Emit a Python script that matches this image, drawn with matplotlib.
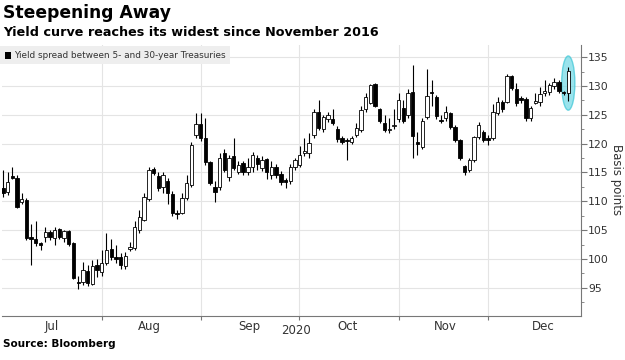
import matplotlib
matplotlib.use("Agg")
import matplotlib.pyplot as plt
from matplotlib.patches import Ellipse, Rectangle

# daily candles, Jul - Dec 2020 (basis points)
opens = [112.3, 111.6, 114.3, 114.0, 109.8, 110.3, 103.8, 103.5, 102.7, 103.8,
         104.6, 103.7, 105.2, 103.6, 104.8, 102.8, 96.0, 96.0, 97.9, 95.7,
         99.0, 97.8, 99.3, 101.7, 100.2, 100.3, 98.8, 101.7, 101.9, 105.0,
         106.8, 110.4, 115.6, 114.3, 112.5, 113.5, 111.3, 108.0, 108.0, 110.6,
         112.8, 121.5, 123.4, 121.0, 116.8, 112.5, 112.5, 118.4, 114.2, 117.8,
         115.1, 116.6, 115.1, 116.0, 117.5, 115.8, 117.3, 114.5, 115.9, 114.7,
         113.6, 113.5, 116.0, 116.3, 118.4, 118.4, 121.5, 125.5, 122.5, 124.3,
         124.3, 122.5, 121.0, 120.6, 120.3, 121.5, 122.4, 126.0, 127.0, 130.3,
         126.0, 123.6, 122.3, 123.0, 124.2, 126.2, 125.0, 128.9, 120.3, 119.4,
         124.6, 128.9, 128.1, 124.1, 124.4, 125.3, 122.9, 120.6, 116.1, 115.4,
         117.1, 121.1, 122.0, 120.9, 121.0, 125.3, 127.2, 127.2, 131.7, 129.5,
         127.8, 127.7, 124.4, 127.1, 127.2, 128.8, 128.9, 130.0, 130.7, 128.9,
         128.8]
closes = [111.5, 113.3, 114.0, 109.0, 110.4, 103.6, 103.5, 102.8, 102.5, 104.7,
          103.8, 105.0, 103.8, 104.8, 102.6, 96.7, 95.8, 98.1, 95.8, 98.8,
          98.1, 99.3, 101.6, 100.3, 100.0, 99.0, 100.5, 102.1, 105.5, 107.3,
          110.7, 115.4, 114.9, 112.3, 114.5, 111.4, 108.0, 107.8, 110.6, 113.1,
          119.7, 123.4, 121.0, 116.8, 113.2, 111.6, 117.5, 115.4, 117.5, 115.8,
          116.3, 115.1, 116.0, 118.0, 116.4, 117.2, 115.1, 116.0, 114.6, 113.3,
          113.4, 116.0, 117.1, 118.0, 118.6, 120.1, 125.5, 122.7, 124.6, 125.0,
          123.6, 120.8, 120.3, 120.4, 120.9, 122.7, 125.8, 128.0, 130.1, 126.5,
          123.9, 122.4, 122.5, 123.3, 127.5, 124.0, 128.8, 121.3, 119.9, 123.9,
          128.2, 128.7, 124.8, 123.9, 125.5, 122.9, 120.6, 117.5, 115.1, 117.1,
          121.1, 123.2, 120.6, 120.7, 125.5, 127.2, 126.0, 131.7, 129.6, 127.0,
          127.6, 124.4, 126.2, 127.3, 128.6, 129.0, 130.1, 130.7, 129.1, 128.7,
          132.6]
highs = [115.4, 115.0, 116.0, 114.5, 111.5, 110.5, 106.0, 106.5, 103.0, 105.5,
         105.0, 105.5, 105.4, 105.0, 105.0, 103.0, 97.0, 99.5, 99.0, 99.8,
         100.0, 101.5, 104.5, 103.5, 102.5, 101.0, 101.2, 103.0, 106.5, 108.5,
         111.5, 116.0, 116.0, 115.0, 115.0, 114.0, 111.8, 108.5, 111.5, 114.5,
         120.3, 125.3, 125.3, 124.5, 117.0, 113.5, 118.3, 119.0, 118.0, 121.0,
         117.0, 117.0, 117.5, 118.5, 118.0, 117.8, 117.5, 117.0, 116.5, 115.2,
         114.0, 116.5, 117.5, 119.5, 121.0, 121.8, 126.0, 127.5, 125.0, 125.5,
         126.0, 123.0, 121.3, 121.0, 121.3, 123.5, 126.5, 128.8, 130.3, 130.5,
         126.2, 125.0, 124.5, 126.0, 128.8, 127.5, 129.5, 133.6, 122.0, 124.5,
         133.0, 131.0, 128.5, 125.0, 126.5, 125.5, 123.2, 120.8, 116.3, 117.5,
         121.4, 123.8, 122.3, 121.5, 126.8, 128.0, 127.6, 132.0, 131.9, 130.5,
         128.2, 128.0, 126.6, 128.8, 129.8, 131.0, 130.5, 131.3, 131.0, 129.2,
         133.3]
lows = [110.8, 111.0, 113.8, 108.8, 109.5, 103.3, 99.0, 102.3, 101.5, 103.0,
        103.2, 102.5, 103.5, 103.0, 102.3, 96.5, 94.8, 95.5, 95.3, 95.5,
        96.8, 97.0, 99.0, 99.8, 99.3, 98.3, 98.3, 101.3, 101.5, 104.5,
        106.5, 110.0, 114.5, 111.8, 111.5, 109.5, 107.5, 107.0, 107.8, 110.3,
        112.5, 121.0, 120.5, 116.3, 112.8, 109.8, 112.0, 115.0, 113.5, 115.5,
        114.8, 114.5, 114.5, 115.0, 115.5, 115.3, 113.8, 113.8, 114.0, 112.8,
        112.3, 113.0, 115.5, 116.0, 117.8, 117.5, 121.0, 122.3, 122.0, 123.8,
        123.3, 120.3, 120.0, 117.1, 120.0, 121.2, 122.0, 125.5, 126.8, 126.3,
        123.5, 122.0, 121.8, 122.5, 123.8, 123.5, 124.5, 117.5, 118.0, 119.0,
        124.3, 126.5, 124.3, 123.5, 124.0, 122.5, 120.3, 117.2, 114.5, 115.0,
        116.8, 120.8, 120.3, 119.8, 120.7, 125.0, 125.4, 127.0, 129.3, 126.6,
        127.0, 124.0, 124.0, 126.8, 126.5, 128.3, 128.5, 129.5, 128.8, 128.4,
        127.4]

month_labels = ["Jul", "Aug", "Sep", "Oct", "Nov", "Dec"]
month_starts = [-0.5, 20.96, 41.97, 62.85, 84.1, 103.0]
month_centers = [10.4, 31.2, 52.4, 73.2, 93.8, 114.6]

fig = plt.figure(figsize=(6.25, 3.6), dpi=100)
ax = fig.add_axes([0.003, 0.1222, 0.9266, 0.7528])

x = list(range(len(opens)))
grid_col = "#e4e4e4"

# highlight the latest candle (behind it, so the candle shows through)
ell = Ellipse((120, 130.5), width=2.8, height=9.4, facecolor="#6fd8e4",
              edgecolor="#3cc6d6", alpha=0.7, linewidth=1.0, zorder=1.5)
ax.add_patch(ell)

# wicks
ax.vlines(x, lows, highs, color="black", linewidth=0.8, zorder=2)

# bodies
up = [c >= o for o, c in zip(opens, closes)]
bottoms = [min(o, c) for o, c in zip(opens, closes)]
heights = [max(abs(c - o), 0.25) for o, c in zip(opens, closes)]
face = ["white" if u else "black" for u in up]
ax.bar(x, heights, bottom=bottoms, width=0.72, color=face,
       edgecolor="black", linewidth=0.6, zorder=3)

ax.set_xlim(-0.2, 122.7)
ax.set_ylim(90.1, 137.1)

# y axis on the right
ax.yaxis.tick_right()
ax.set_yticks(range(95, 136, 5))
ax.set_yticks([v + 2.5 for v in range(90, 135, 5)], minor=True)
ax.tick_params(axis="y", which="major", length=4, color="#777777",
               labelsize=7.8, labelcolor="#333333", pad=1)
ax.tick_params(axis="y", which="minor", length=2.5, color="#777777")
fig.text(616 / 625, 0.5, "Basis points", rotation=270, fontsize=8.5,
         color="#333333", ha="center", va="center")

# x axis: ticks at month boundaries, labels centred in each month
ax.set_xticks(month_starts[1:])
ax.set_xticklabels([])
ax.set_xticks(month_centers, minor=True)
ax.set_xticklabels(month_labels, minor=True)
ax.tick_params(axis="x", which="major", length=3, color="#777777")
ax.tick_params(axis="x", which="minor", length=0, labelsize=8.5,
               labelcolor="#333333", pad=3)

ax.grid(True, which="major", color=grid_col, linewidth=0.8, zorder=0)
ax.set_axisbelow(True)

for side in ["left", "top"]:
    ax.spines[side].set_visible(False)
ax.spines["right"].set_color("#777777")
ax.spines["bottom"].set_color("#777777")

fig.text(0.4736, 1 - 330 / 360, "2020", ha="center", va="center",
         fontsize=8.5, color="#333333")

# titles
fig.text(0.005, 1 - 13 / 360, "Steepening Away", fontsize=12.3,
         fontweight="bold", va="center", ha="left")
fig.text(0.005, 1 - 33 / 360, "Yield curve reaches its widest since November 2016",
         fontsize=9.2, fontweight="bold", va="center", ha="left")

# legend box
fig.patches.append(Rectangle((0.0, 1 - 64 / 360), 230 / 625, 18 / 360,
                             transform=fig.transFigure, facecolor="#eeeeee",
                             edgecolor="none", zorder=5))
fig.patches.append(Rectangle((5 / 625, 1 - 58.5 / 360), 6 / 625, 6 / 360,
                             transform=fig.transFigure, facecolor="black",
                             edgecolor="none", zorder=6))
fig.text(14 / 625, 1 - 55 / 360, "Yield spread between 5- and 30-year Treasuries",
         fontsize=6.4, va="center", ha="left", color="#333333", zorder=7)

fig.text(0.005, 1 - 344 / 360, "Source: Bloomberg", fontsize=7.5,
         fontweight="bold", va="center", ha="left")

fig.savefig("out.png", dpi=100)
